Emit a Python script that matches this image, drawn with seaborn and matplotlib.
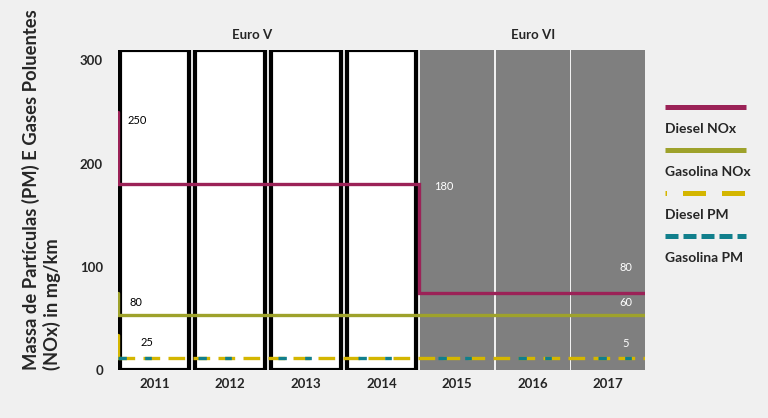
import numpy as np
import pandas as pd
import matplotlib
matplotlib.use("Agg")
import matplotlib.pyplot as plt
import seaborn as sns
from matplotlib.lines import Line2D

# ---- data ----
years = ["2011", "2012", "2013", "2014", "2015", "2016", "2017"]
norm = ["Euro V", "Euro V", "Euro V", "Euro V", "Euro VI", "Euro VI", "Euro VI"]
bar_height = [310, 310, 310, 310, 310, 310, 310]

diesel_nox = [180, 180, 180, 180, 75, 75, 75]
gasolina_nox = [53, 53, 53, 53, 53, 53, 53]
diesel_pm = [12, 12, 12, 12, 12, 12, 12]
gasolina_pm = [12, 12, 12, 12, 12, 12, 12]
start_values = {"Diesel NOx": 250, "Gasolina NOx": 75, "Diesel PM": 34}

labels_euro5 = ["250", "80", "25"]
labels_euro6 = ["180", "80", "60", "5"]

series_names = ["Diesel NOx", "Gasolina NOx", "Diesel PM", "Gasolina PM"]
colors = {"Diesel NOx": "#9b2257", "Gasolina NOx": "#9ea22b",
          "Diesel PM": "#d4b600", "Gasolina PM": "#117f8c"}

sns.set_theme(style="white")
plt.rcParams["font.family"] = ["Lato", "DejaVu Sans"]

fig = plt.figure(figsize=(7.68, 4.18), dpi=100, facecolor="#f0f0f0")
ax = fig.add_axes([0.154, 0.115, 0.686, 0.765])
ax.set_facecolor("#f0f0f0")

df = pd.DataFrame({"year": years, "h": bar_height, "norm": norm})
bw = 0.975
sns.barplot(data=df, x="year", y="h", hue="norm",
            palette={"Euro V": "white", "Euro VI": "#7f7f7f"},
            width=bw, dodge=False, legend=False, ax=ax, zorder=1)
inner_w = 0.92
for p, n in zip(ax.patches, norm):
    if n == "Euro V":
        cx = p.get_x() + p.get_width() / 2
        p.set_width(inner_w)
        p.set_x(cx - inner_w / 2)
        p.set_edgecolor("black"); p.set_linewidth(3.0)
    else:
        p.set_edgecolor("none"); p.set_linewidth(0)

n = len(years)
left = -inner_w / 2 - 0.02
right = n - 1 + bw / 2

def step_xy(vals, start):
    xs = [left, left]
    ys = [start, vals[0]]
    for i in range(1, n):
        if vals[i] != vals[i - 1]:
            xs += [i - 0.5, i - 0.5]
            ys += [vals[i - 1], vals[i]]
    xs.append(right)
    ys.append(vals[-1])
    return xs, ys

x, y = step_xy(diesel_nox, start_values["Diesel NOx"])
ax.plot(x, y, color=colors["Diesel NOx"], lw=2.4, zorder=3, solid_joinstyle="miter")
x, y = step_xy(gasolina_nox, start_values["Gasolina NOx"])
ax.plot(x, y, color=colors["Gasolina NOx"], lw=2.4, zorder=3, solid_joinstyle="miter")
x, y = step_xy(diesel_pm, start_values["Diesel PM"])
ax.plot(x[:2], y[:2], color=colors["Diesel PM"], lw=2.4, zorder=3)
ax.plot(x[1:], y[1:], color=colors["Diesel PM"], lw=2.4, zorder=3, dashes=(5, 2.5))
ax.plot([left, right], [gasolina_pm[0], gasolina_pm[-1]], color=colors["Gasolina PM"],
        lw=2.4, zorder=4, dashes=(2.5, 5.5, 2, 14))

# annotations
ax.text(left + 0.12, 242, labels_euro5[0], fontsize=8, va="center", color="black", zorder=5)
ax.text(left + 0.15, 65, labels_euro5[1], fontsize=8, va="center", color="black", zorder=5)
ax.text(left + 0.3, 27, labels_euro5[2], fontsize=8, va="center", color="black", zorder=5)
ax.text(3.7, 178, labels_euro6[0], fontsize=8, va="center", ha="left", color="white", zorder=5)
ax.text(6.23, 99, labels_euro6[1], fontsize=8, va="center", ha="center", color="white", zorder=5)
ax.text(6.23, 65, labels_euro6[2], fontsize=8, va="center", ha="center", color="white", zorder=5)
ax.text(6.23, 26, labels_euro6[3], fontsize=8, va="center", ha="center", color="white", zorder=5)

ax.text(1.29, 325, "Euro V", fontsize=9.5, fontweight="bold", ha="center", va="center", clip_on=False)
ax.text(5.0, 325, "Euro VI", fontsize=9.5, fontweight="bold", ha="center", va="center", clip_on=False)

ax.set_xlim(left, right)
ax.set_ylim(0, 310)
ax.set_yticks([0, 100, 200, 300])
ax.set_xlabel("")
ax.set_ylabel("Massa de Partículas (PM) E Gases Poluentes\n(NOx) in mg/km",
              fontsize=13.2, fontweight="bold", multialignment="left")
ax.yaxis.set_label_coords(-0.108, 0.5625)
for s in ax.spines.values():
    s.set_visible(False)
ax.tick_params(axis="both", length=0, labelsize=9.5)
ax.tick_params(axis="y", pad=11)
ax.tick_params(axis="x", pad=6)
for t in ax.get_xticklabels() + ax.get_yticklabels():
    t.set_fontweight("bold")

# custom legend (line above label)
lx0, lx1 = 665 / 768, 746 / 768
ys_line = [107, 150, 193, 236]
styles = [dict(linestyle="-"), dict(linestyle="-"),
          dict(linestyle=(4.3, (4.6, 3.2))), dict(linestyle=(0, (2.6, 1.0)))]
for name, yl, st in zip(series_names, ys_line, styles):
    yf = 1 - yl / 418
    fig.add_artist(Line2D([lx0, lx1], [yf, yf], color=colors[name], lw=3.6,
                          solid_capstyle="butt", dash_capstyle="butt", **st))
    fig.text(lx0, 1 - (yl + 22) / 418, name, fontsize=10, fontweight="bold", va="center", ha="left")

fig.savefig("out.png", dpi=100, facecolor=fig.get_facecolor())
